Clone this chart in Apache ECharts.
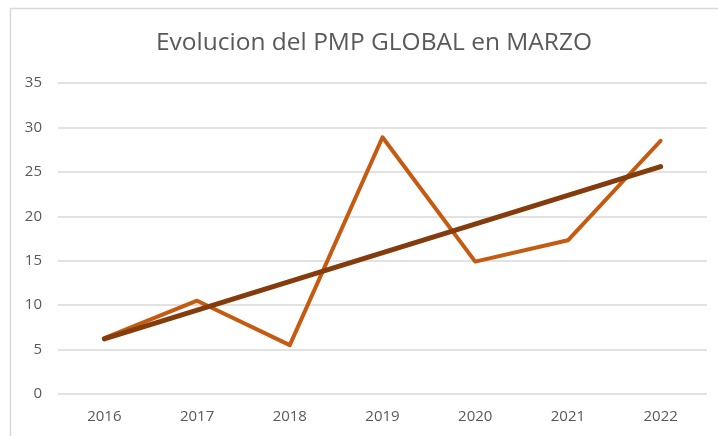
<!DOCTYPE html>
<html><head><meta charset="utf-8">
<script src="https://cdn.jsdelivr.net/npm/echarts@6/dist/echarts.min.js"></script>
<style>html,body{margin:0;padding:0;background:#fff}#c{width:718px;height:436px}</style>
</head><body><div id="c"></div>
<script>
const categories = ['2016','2017','2018','2019','2020','2021','2022'];
const pmpValues = [6.3, 10.5, 5.5, 28.9, 14.9, 17.3, 28.5];
const trendValues = [6.2, null, null, null, null, null, 25.6];
const yTicks = [0, 5, 10, 15, 20, 25, 30, 35];

const FONT = '"Open Sans", "Noto Sans", sans-serif';
const chart = echarts.init(document.getElementById('c'), null, {renderer:'canvas'});
chart.setOption({
  animation: false,
  backgroundColor: '#fff',
  graphic: [{type:'rect', shape:{x:10.5, y:8.5, width:720, height:440}, style:{fill:'none', stroke:'#d9d9d9', lineWidth:1.5}, silent:true}],
  title: {text:'Evolucion del PMP GLOBAL en MARZO', left:369, textAlign:'center', top:26,
    textStyle:{fontFamily:FONT, fontSize:24.5, fontWeight:'normal', color:'#595959'}},
  grid: {left:58, right:11, top:83, bottom:42},
  xAxis: {type:'category', data:categories, boundaryGap:true,
    axisLine:{show:false}, axisTick:{show:false},
    axisLabel:{color:'#595959', fontSize:15, margin:15, fontFamily:FONT}},
  yAxis: {type:'value', min:yTicks[0], max:yTicks[yTicks.length-1], interval:5,
    axisLine:{show:false}, axisTick:{show:false},
    splitLine:{lineStyle:{color:'#d9d9d9', width:1.5}},
    axisLabel:{color:'#595959', fontSize:15, margin:16, fontFamily:FONT}},
  series: [
    {type:'line', data:pmpValues, symbol:'none', lineStyle:{color:'#C55A11', width:4, cap:'round', join:'round'}, itemStyle:{color:'#C55A11'}},
    {type:'line', data:trendValues, connectNulls:true, symbol:'none', lineStyle:{color:'#843C0C', width:5, cap:'round'}, itemStyle:{color:'#843C0C'}}
  ]
});
</script></body></html>
